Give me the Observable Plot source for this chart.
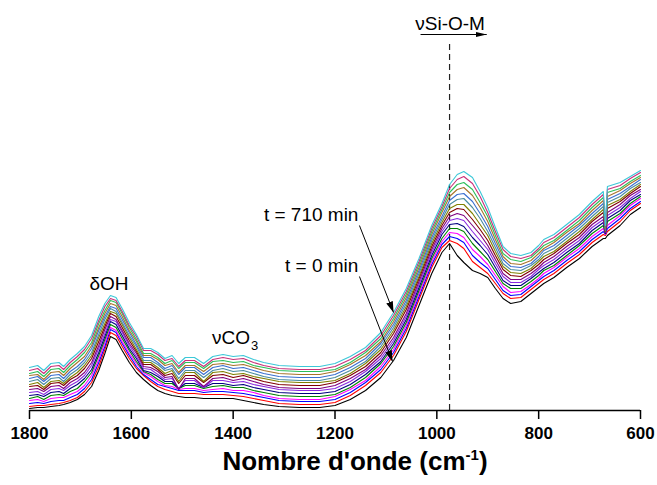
<!DOCTYPE html>
<html><head><meta charset="utf-8">
<script src="https://cdn.jsdelivr.net/npm/d3@7"></script>
<script src="https://cdn.jsdelivr.net/npm/@observablehq/plot@0.6"></script>
<style>
body{margin:0;background:#fff}
svg{display:block}
g[aria-label="x-axis tick label"]{font-weight:bold;font-size:17px}
</style>
</head><body><div id="chart"></div>
<script>
// wavenumber grid (cm-1)
const wavenumbers = [1800,1784,1772,1758,1742,1733,1720,1706,1692,1678,
  1664,1652,1641,1630,1618,1604,1590,1576,1562,1548,
  1534,1520,1507,1494,1476,1458,1440,1420,1400,1380,
  1360,1340,1310,1270,1230,1200,1170,1140,1110,1085,
  1060,1035,1010,990,975,960,947,930,915,900,
  885,870,855,835,815,800,790,770,745,720,
  695,673,669,665,640,620,600];

// spectra, t = 0 min (bottom) ... t = 710 min (top), arbitrary absorbance units
const curve00 = [2,3,3,4,5,6,8,11,16,24, 40,57,74,71,60,48,38,31,25,20, 17,15,14,13,13,12,12,12,12,10, 8,6,4,3,3,5,11,20,33,50, 73,105,137,158,167,155,148,140,137,133, 122,112,107,109,117,123,127,133,143,152, 164,172,172,175,185,196,203];
const curve01 = [4,5,5,6,7,8,10,13,19,28, 44,61,78,75,64,52,42,35,29,24, 21,19,17,17,17,16,16,16,15,14, 12,10,7,6,6,8,15,25,38,55, 79,111,143,163,170,167,162,149,143,137, 127,117,112,113,121,127,131,137,147,156, 168,176,175,179,189,200,207];
const curve02 = [7,8,7,9,10,10,13,16,22,31, 48,64,81,78,67,55,44,36,31,26, 24,22,20,20,20,18,19,19,18,17, 15,13,10,9,9,11,18,28,41,58, 82,114,146,166,174,172,168,155,148,142, 131,120,115,116,124,130,134,140,150,159, 171,179,176,182,192,202,209];
const curve03 = [10,11,9,12,13,13,16,19,25,35, 51,68,83,80,69,57,47,38,34,29, 25,24,21,22,22,20,21,22,20,20, 18,15,12,11,11,14,21,30,44,61, 85,117,149,169,178,177,173,161,154,146, 135,124,118,119,126,132,137,143,153,162, 174,182,176,185,195,205,212];
const curve04 = [12,14,11,15,16,15,19,22,29,38, 55,71,86,83,72,60,49,39,36,31, 27,27,22,25,25,22,24,25,23,23, 20,18,15,14,14,16,23,33,47,64, 88,120,152,172,182,182,179,167,159,151, 139,127,122,122,129,135,140,145,155,165, 177,185,177,189,197,207,214];
const curve05 = [15,16,14,18,19,17,22,26,32,41, 58,74,89,86,75,62,52,40,38,34, 29,29,22,27,27,23,27,27,25,26, 23,21,18,17,17,19,26,36,49,67, 91,123,155,176,186,187,184,173,165,156, 143,130,125,125,132,138,142,148,158,167, 180,188,177,192,200,210,216];
const curve06 = [18,19,16,21,22,20,25,29,35,45, 62,77,91,89,78,65,54,42,41,36, 31,32,22,30,30,23,30,30,28,29, 26,24,21,20,20,22,29,39,52,70, 94,126,158,179,190,192,190,179,170,161, 147,134,128,128,134,141,145,151,161,170, 183,191,178,195,203,212,219];
const curve07 = [21,22,19,24,25,22,28,32,38,48, 65,81,94,91,80,67,57,44,43,39, 33,34,21,32,32,24,32,33,30,32, 29,26,23,22,22,25,32,41,55,73, 97,129,161,182,194,197,195,185,176,165, 151,137,131,131,137,143,148,154,164,173, 186,194,178,198,206,215,221];
const curve08 = [24,25,21,27,28,25,31,35,42,52, 69,84,97,94,83,70,59,46,46,41, 35,37,27,35,35,28,35,36,33,35, 32,29,26,25,25,28,35,44,58,77, 101,132,164,185,198,202,201,191,181,170, 155,141,135,134,140,146,151,157,167,176, 189,198,179,202,209,217,224];
const curve09 = [26,28,23,29,30,27,33,38,45,55, 73,87,99,97,86,73,61,48,48,43, 37,40,29,38,38,29,38,39,36,37, 34,32,29,28,28,30,37,47,61,80, 104,134,167,188,202,206,206,197,186,175, 159,144,138,137,142,149,154,159,169,179, 191,201,179,205,211,219,226];
const curve10 = [29,31,26,32,33,29,36,41,48,58, 76,91,102,99,88,75,64,50,50,46, 40,42,32,40,40,33,40,42,39,40, 37,34,31,30,30,33,40,49,64,83, 107,137,170,191,206,211,212,203,192,179, 163,147,141,140,145,151,157,162,172,182, 194,204,180,208,214,222,228];
const curve11 = [32,34,29,35,36,32,39,44,51,62, 80,94,104,102,91,78,66,53,53,48, 42,45,36,43,43,36,43,45,42,43, 40,37,34,33,33,36,43,52,67,86, 110,140,173,194,210,216,217,209,197,184, 167,151,144,143,147,154,160,165,175,185, 197,207,181,211,217,224,231];
const curve12 = [35,36,31,38,39,35,42,48,54,65, 83,97,107,105,94,80,69,55,55,51, 45,47,38,45,45,39,46,47,45,46, 43,40,37,36,36,39,46,55,69,89, 113,143,176,198,214,221,223,215,203,189, 171,154,147,146,150,157,162,168,178,187, 200,210,182,214,220,227,233];
const curve13 = [37,39,34,41,42,38,45,51,58,68, 87,100,110,108,97,83,71,57,57,53, 47,50,42,48,48,42,49,50,48,49, 45,43,40,39,39,41,48,58,72,92, 116,146,179,201,218,226,228,221,208,194, 175,157,151,149,153,160,165,170,180,190, 203,213,183,218,222,229,235];
const curve14 = [40,42,37,44,45,41,48,54,61,72, 90,104,112,110,99,85,74,60,60,56, 50,52,44,50,50,44,51,53,51,52, 48,45,42,41,41,44,51,60,75,95, 119,149,182,204,222,231,234,227,214,198, 179,161,154,152,155,162,168,173,183,193, 206,216,184,221,225,232,238];
const curve15 = [43,45,40,47,48,44,51,57,64,75, 94,107,115,113,102,88,76,62,62,58, 52,55,47,53,53,47,54,56,54,55, 51,48,45,44,44,47,54,63,78,98, 122,152,185,207,226,236,239,233,219,203, 183,164,157,155,158,165,171,176,186,196, 209,219,185,224,228,234,240];

const seriesColors = ["#000000","#ff0000","#0000ff","#ff00ff","#008000","#000080","#8a2be2","#800080",
  "#800000","#808000","#4a8ca0","#3a6fd0","#a8742a","#2cbf5a","#c8307a","#3cc8d8"];
const xTicks = [1800,1600,1400,1200,1000,800,600];
const xTitle = "Nombre d'onde (cm-1)";

// annotations (data coordinates)
const markerLine = [975];
const timeLabels = ["t = 710 min","t = 0 min"];
const timeLabelWn = [1154,1154];
const timeLabelH = [196,145];
const timeArrows = [{x1:1152,y1:185,x2:1085,y2:98},{x1:1152,y1:134,x2:1087,y2:49}];
const bandArrow = [{x1:1032,y1:376,x2:902,y2:376}];

const curves = [curve00,curve01,curve02,curve03,curve04,curve05,curve06,curve07,
  curve08,curve09,curve10,curve11,curve12,curve13,curve14,curve15];
const font = "'Liberation Sans', Arial, Helvetica, sans-serif";

const svg = Plot.plot({
  width: 657, height: 485,
  marginLeft: 29, marginRight: 17, marginTop: 10, marginBottom: 75,
  style: {fontFamily: font, background: "white", color: "black"},
  x: {domain: [1800, 600]},
  y: {domain: [0, 400], axis: null},
  marks: [
    Plot.ruleX(markerLine, {y1: 0, y2: 370, stroke: "#222", strokeWidth: 1.2, strokeDasharray: "6,4"}),
    ...curves.map((c, k) => Plot.line(c, {x: (d, i) => wavenumbers[i], y: d => d, stroke: seriesColors[k], strokeWidth: 1.1})),
    Plot.ruleY([0], {stroke: "black", strokeWidth: 1.5}),
    Plot.axisX({ticks: xTicks, tickSize: 9, tickPadding: 7, tickFormat: "d", fontSize: 17, fontWeight: "bold", strokeWidth: 1.5, label: null}),
    Plot.text([xTitle], {frameAnchor: "bottom", dx: 20, dy: 59, text: d => d, fontSize: 26, fontWeight: "bold"}),
    Plot.text(["δOH"], {x: 1644, y: 127, text: d => d, fontSize: 19}),
    Plot.text(["νCO"], {x: 1367, y: 73, text: d => d, fontSize: 19, textAnchor: "end"}),
    Plot.text(["3"], {x: 1365, y: 65, text: d => d, fontSize: 13, textAnchor: "start"}),
    Plot.text(timeLabels, {x: (d, i) => timeLabelWn[i], y: (d, i) => timeLabelH[i], text: d => d, fontSize: 19, textAnchor: "end"}),
    Plot.text(["νSi-O-M"], {x: 974, y: 386.6, text: d => d, fontSize: 19}),
    Plot.link(timeArrows, {x1: "x1", y1: "y1", x2: "x2", y2: "y2", stroke: "black", strokeWidth: 1}),
    Plot.link(bandArrow, {x1: "x1", y1: "y1", x2: "x2", y2: "y2", stroke: "black", strokeWidth: 1})
  ]
});

const s = d3.select(svg);
const defs = s.insert("defs", ":first-child");
defs.append("marker").attr("id", "headA").attr("viewBox", "0 -4 11 8").attr("refX", 11).attr("refY", 0)
  .attr("markerWidth", 11).attr("markerHeight", 8).attr("markerUnits", "userSpaceOnUse").attr("orient", "auto")
  .append("path").attr("d", "M0,-3.5L11,0L0,3.5Z").attr("fill", "black");
defs.append("marker").attr("id", "headB").attr("viewBox", "0 -3 11 6").attr("refX", 11).attr("refY", 0)
  .attr("markerWidth", 11).attr("markerHeight", 6).attr("markerUnits", "userSpaceOnUse").attr("orient", "auto")
  .append("path").attr("d", "M0,-2.5L11,0L0,2.5Z").attr("fill", "black");
const linkGroups = s.selectAll('g[aria-label="link"]').nodes();
if (linkGroups[0]) d3.select(linkGroups[0]).selectAll("path").attr("marker-end", "url(#headA)");
if (linkGroups[1]) d3.select(linkGroups[1]).selectAll("path").attr("marker-end", "url(#headB)");

s.selectAll("text").filter(function(){ return this.textContent === xTitle; }).each(function(){
  const t = d3.select(this);
  t.text("");
  t.append("tspan").text("Nombre d'onde (cm");
  t.append("tspan").attr("font-size", 15).attr("dy", -10).text("-1");
  t.append("tspan").attr("dy", 10).text(")");
});

document.getElementById("chart").appendChild(svg);
</script>
</body></html>
